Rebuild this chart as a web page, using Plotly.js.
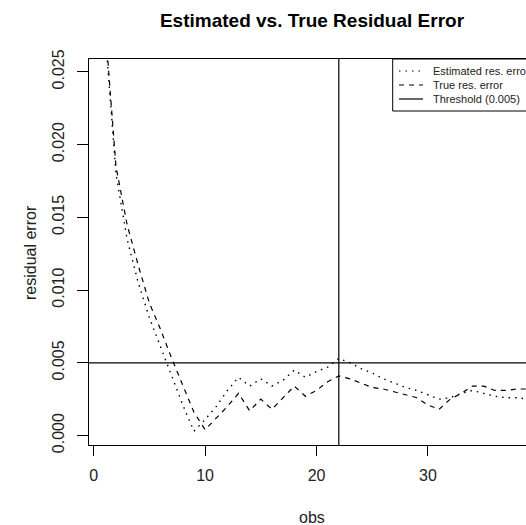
<!DOCTYPE html>
<html>
<head>
<meta charset="utf-8">
<script src="https://cdn.plot.ly/plotly-3.0.1.min.js"></script>
<style>
html,body{margin:0;padding:0;background:#fff;}
#chart{width:526px;height:525px;}
</style>
</head>
<body>
<div id="chart"></div>
<script>
// ---- data ----
const obs = [1,2,3,4,5,6,7,8,9,10,11,12,13,14,15,16,17,18,19,20,21,22,23,24,25,26,27,28,29,30,31,32,33,34,35,36,37,38,39];
const estimatedErr = [0.0280,0.0180,0.0135,0.0105,0.0081,0.0061,0.0041,0.0021,0.0003,0.0011,0.0020,0.0031,0.0040,0.0034,0.0039,0.0034,0.0038,0.0045,0.0040,0.0044,0.0047,0.0053,0.0050,0.0046,0.0043,0.0039,0.0036,0.0033,0.0031,0.0028,0.0025,0.0026,0.0029,0.0031,0.0029,0.0027,0.0026,0.0026,0.0025];
const trueErr = [0.0285,0.0185,0.0145,0.0117,0.0091,0.0073,0.0053,0.0034,0.0016,0.0004,0.0012,0.0020,0.0029,0.0017,0.0025,0.0018,0.0026,0.0034,0.0027,0.0031,0.0037,0.0041,0.0039,0.0036,0.0033,0.0032,0.0030,0.0028,0.0026,0.0021,0.0018,0.0025,0.0029,0.0034,0.0034,0.0031,0.0031,0.0032,0.0032];
const threshold = 0.005;
const cutObs = 22;
const xTicks = [0,10,20,30];
const yTicks = [0.000,0.005,0.010,0.015,0.020,0.025];
const yTickText = ["0.000","0.005","0.010","0.015","0.020","0.025"];
const legendLabels = ["Estimated res. error","True res. error","Threshold (0.005)"];
const titleText = "Estimated vs. True Residual Error";
const xLabel = "obs";
const yLabel = "residual error";

// ---- layout helpers (pixel geometry) ----
const W = 526, H = 525, L = 89, R = 0, T = 59, B = 80;
const pw = W - L - R, ph = H - T - B;
const px2paperX = p => (p - L) / pw;
const px2paperY = p => (H - B - p) / ph;
const FONT = '"Liberation Sans", Arial, Helvetica, sans-serif';

const traces = [
  {x: obs, y: estimatedErr, type: 'scatter', mode: 'lines', name: legendLabels[0],
   line: {color: '#000', width: 1.4, dash: '1.5px,5px'}, hoverinfo: 'skip'},
  {x: obs, y: trueErr, type: 'scatter', mode: 'lines', name: legendLabels[1],
   line: {color: '#000', width: 1.2, dash: '5px,5px'}, hoverinfo: 'skip'}
];

const legRows = [71, 85, 99];
const legDash = ['1.5px,5px', '5px,5px', 'solid'];
const shapes = [
  {type: 'line', xref: 'paper', yref: 'y', x0: 0, x1: 1, y0: threshold, y1: threshold,
   line: {color: '#000', width: 1.2}},
  {type: 'line', xref: 'x', yref: 'paper', x0: cutObs, x1: cutObs, y0: 0, y1: 1,
   line: {color: '#000', width: 1.2}},
  {type: 'rect', xref: 'paper', yref: 'paper', x0: px2paperX(392.7), x1: 1.1,
   y0: px2paperY(111), y1: 1, line: {color: '#000', width: 1}, fillcolor: 'rgba(255,255,255,0)'}
];
const annotations = [
  {text: xLabel, xref: 'paper', yref: 'paper', x: px2paperX(312), y: px2paperY(517),
   xanchor: 'center', yanchor: 'middle', showarrow: false, font: {family: FONT, size: 16, color: '#222'}},
  {text: yLabel, xref: 'paper', yref: 'paper', x: px2paperX(30), y: px2paperY(252),
   xanchor: 'center', yanchor: 'middle', textangle: -90, showarrow: false,
   font: {family: FONT, size: 16, color: '#222'}}
];
legRows.forEach((r, i) => {
  shapes.push({type: 'line', xref: 'paper', yref: 'paper', x0: px2paperX(399), x1: px2paperX(423),
    y0: px2paperY(r), y1: px2paperY(r), line: {color: '#000', width: 1.2, dash: legDash[i]}});
  annotations.push({text: legendLabels[i], xref: 'paper', yref: 'paper', x: px2paperX(431),
    y: px2paperY(r), xanchor: 'left', yanchor: 'middle', showarrow: false,
    font: {family: FONT, size: 11, color: '#222'}});
});

const layout = {
  width: W, height: H,
  margin: {l: L, r: R, t: T, b: B, pad: 0},
  paper_bgcolor: '#fff', plot_bgcolor: '#fff',
  showlegend: false,
  title: {text: '<b>' + titleText + '</b>', x: px2paperX(312), xref: 'paper', xanchor: 'center',
          y: 1 - 20 / H, yref: 'container', yanchor: 'middle',
          font: {family: FONT, size: 19, color: '#000'}},
  xaxis: {range: [-0.42, 38.8], tickvals: xTicks, ticktext: xTicks.map(String),
          showgrid: false, zeroline: false, showline: true, mirror: true, linecolor: '#000', linewidth: 1,
          ticks: 'outside', ticklen: 10, tickcolor: '#000', tickwidth: 1, ticklabelstandoff: 6,
          tickfont: {family: FONT, size: 16, color: '#222'}},
  yaxis: {range: [-0.00065, 0.02588], tickvals: yTicks, ticktext: yTickText, tickangle: -90,
          showgrid: false, zeroline: false, showline: true, mirror: false, linecolor: '#000', linewidth: 1,
          ticks: 'outside', ticklen: 11, tickcolor: '#000', tickwidth: 1, ticklabelstandoff: 7,
          tickfont: {family: FONT, size: 16, color: '#222'}},
  shapes: shapes,
  annotations: annotations
};

Plotly.newPlot('chart', traces, layout, {staticPlot: true, displayModeBar: false});
</script>
</body>
</html>
